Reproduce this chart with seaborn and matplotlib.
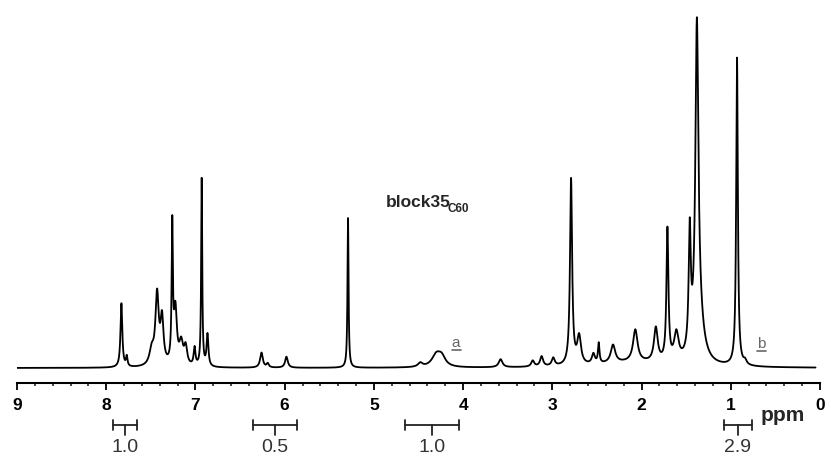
import numpy as np
import pandas as pd
import matplotlib
matplotlib.use("Agg")
import matplotlib.pyplot as plt
import matplotlib.transforms as mtransforms
import seaborn as sns

# peak list (ppm, height above baseline, half-width in ppm)
peak_ppm = [7.83, 7.77, 7.49, 7.43, 7.375, 7.26, 7.225, 7.16, 7.11, 7.01,
            6.93, 6.865, 6.26, 6.19, 5.98, 5.29, 4.48, 4.30, 4.24, 3.58,
            3.22, 3.12, 2.99, 2.79, 2.70, 2.54, 2.48, 2.32, 2.07, 1.84,
            1.71, 1.61, 1.46, 1.38, 1.36, 0.93, 0.84, 2.10]
peak_height = [64, 10, 15, 70, 45, 135, 55, 22, 18, 18,
               188, 32, 15, 4, 11, 150, 4, 12, 9, 8,
               6, 10, 8, 186, 28, 10, 20, 18, 32, 34,
               132, 28, 118, 307, 42, 308, 4, 5]
peak_width = [0.012, 0.01, 0.03, 0.022, 0.02, 0.008, 0.02, 0.025, 0.02, 0.012,
              0.007, 0.012, 0.018, 0.015, 0.018, 0.007, 0.03, 0.06, 0.05, 0.025,
              0.02, 0.02, 0.02, 0.014, 0.025, 0.02, 0.01, 0.03, 0.03, 0.025,
              0.013, 0.03, 0.014, 0.02, 0.06, 0.011, 0.02, 0.45]

# integration regions under the axis
integral_ppm = [7.79, 6.11, 4.35, 0.92]
integral_left = [7.92, 6.36, 4.65, 1.08]
integral_right = [7.66, 5.86, 4.05, 0.76]
integral_value = ["1.0", "0.5", "1.0", "2.9"]

# assignment labels
label_text = ["a", "b"]
label_ppm = [4.13, 0.71]
label_y = [21, 20]

ppm = np.linspace(9.0, 0.05, 9000)
intensity = np.zeros_like(ppm)
for c, h, w in zip(peak_ppm, peak_height, peak_width):
    intensity += h / (1 + ((ppm - c) / w) ** 2)
df = pd.DataFrame({"ppm": ppm, "intensity": intensity})

sns.set_style("white")
plt.rcParams["font.family"] = ["Liberation Sans", "DejaVu Sans"]

fig = plt.figure(figsize=(8.31, 4.59), dpi=100)
ax = fig.add_axes([17 / 831, (459 - 383) / 459, 803 / 831, 373 / 459])
sns.lineplot(data=df, x="ppm", y="intensity", ax=ax, color="black",
             linewidth=1.3, sort=False)

ax.set_xlim(9, 0)
ax.set_ylim(-15, 358)
ax.set_xlabel("")
ax.set_ylabel("")
ax.set_yticks([])
for s in ["left", "right", "top"]:
    ax.spines[s].set_visible(False)
ax.spines["bottom"].set_linewidth(1.5)
ax.spines["bottom"].set_color("black")
ax.set_xticks(range(0, 10))
ax.set_xticklabels([str(i) for i in range(0, 10)], fontsize=12.5, fontweight="bold")
ax.set_xticks(np.arange(0, 9.01, 0.2), minor=True)
ax.tick_params(axis="x", which="major", direction="out", length=5, width=1.3,
               pad=6, bottom=True, colors="black")
ax.tick_params(axis="x", which="minor", direction="out", length=2.5, width=1.2,
               bottom=True)

ax.text(4.87, 161, "block35", fontsize=12.5, fontweight="bold", va="baseline", ha="left")
ax.text(4.17, 156, "C60", fontsize=8.5, fontweight="bold", va="baseline", ha="left")

# underlined gray labels
for t, x, y in zip(label_text, label_ppm, label_y):
    ax.text(x, y, t, fontsize=11, color="#666666", va="baseline", ha="left")
    ax.plot([x, x - 0.11], [y - 3, y - 3], color="#666666", lw=1.2)

# integrals drawn in figure y coordinates below the axis
tr = mtransforms.blended_transform_factory(ax.transData, fig.transFigure)
y_bar = (459 - 425) / 459
y_end = 5 / 459
y_mid = 10 / 459
for c, l, r, v in zip(integral_ppm, integral_left, integral_right, integral_value):
    ax.plot([l, r], [y_bar, y_bar], transform=tr, color="#222222", lw=1.3, clip_on=False)
    for e in (l, r):
        ax.plot([e, e], [y_bar - y_end, y_bar + y_end], transform=tr,
                color="#222222", lw=1.3, clip_on=False)
    ax.plot([c, c], [y_bar, y_bar - y_mid], transform=tr, color="#222222",
            lw=1.3, clip_on=False)
    ax.text(c, (459 - 448) / 459, v, transform=tr, fontsize=14, color="#333333",
            ha="center", va="center")

ax.text(0.67, (459 - 421) / 459, "ppm", transform=tr, fontsize=15,
        fontweight="bold", ha="left", va="baseline")

fig.savefig("out.png", dpi=100)
